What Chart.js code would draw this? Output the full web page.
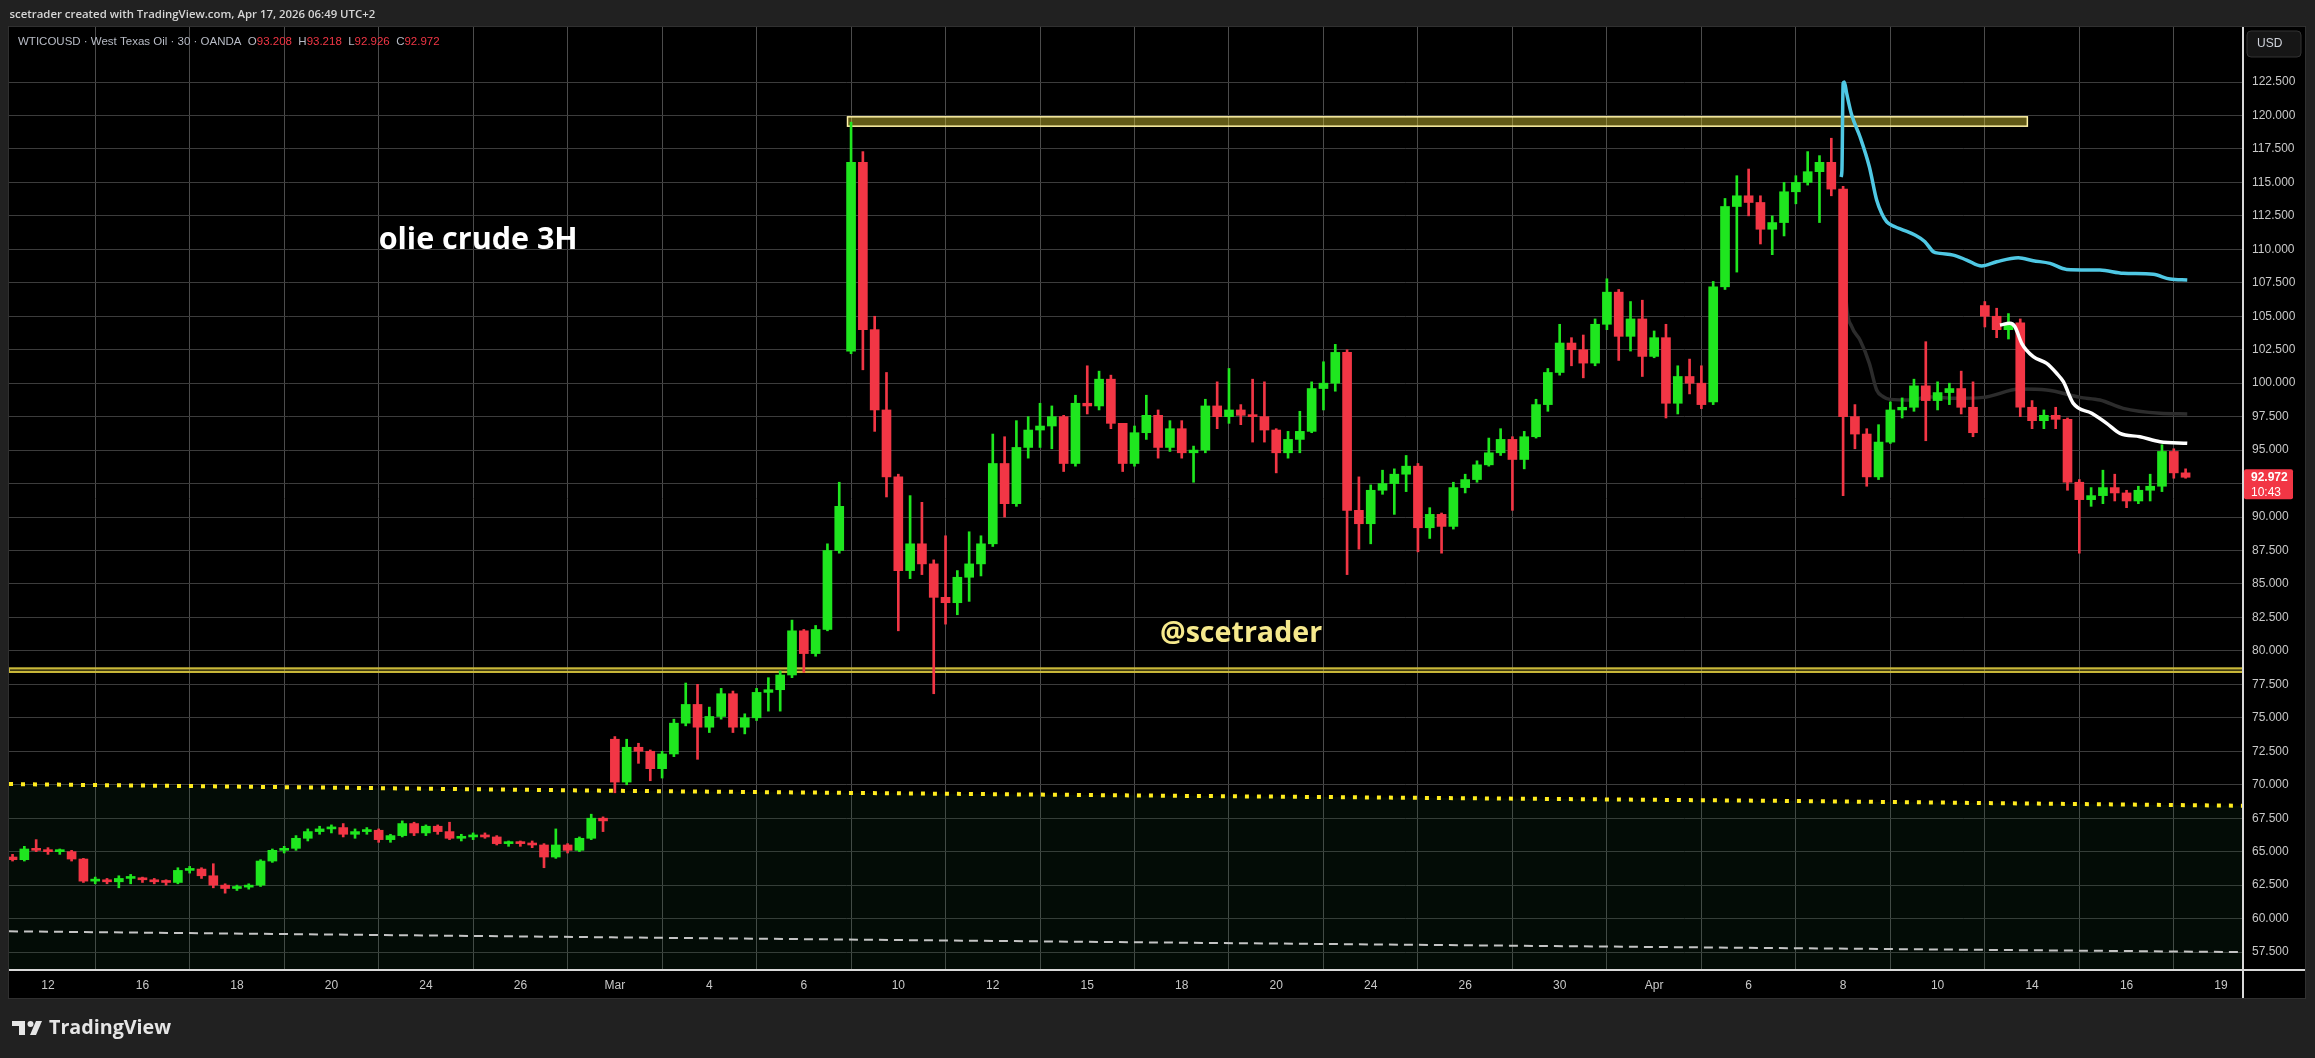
<!DOCTYPE html>
<html>
<head>
<meta charset="utf-8">
<title>WTICOUSD - olie crude 3H</title>
<script src="https://cdn.jsdelivr.net/npm/chart.js@4.4.1/dist/chart.umd.min.js"></script>
<style>
  html, body { margin: 0; padding: 0; background: #212121; }
  #wrap { position: relative; width: 2315px; height: 1058px; }
</style>
</head>
<body>
<div id="wrap"><canvas id="chart" width="2315" height="1058"></canvas></div>
<script>
// one candle = one 6h slot, slot 0 = Feb 12
const firstSlot = -3;

const opens = [64.6, 64.4, 65.2,
    65.1, 65.0, 65.0, 64.45, 62.8, 62.9, 62.75, 63.0, 63.0, 62.9,
    62.75, 62.7, 63.6, 63.7, 63.2, 62.5, 62.25, 62.35, 62.5, 64.3,
    65.1, 65.25, 66.0, 66.5, 66.7, 66.8, 66.3, 66.5, 66.6, 65.9,
    66.2, 67.1, 66.4, 66.9, 66.5, 66.0, 66.1, 66.2, 66.1, 65.6,
    65.7, 65.6, 65.5, 64.6, 65.5, 65.1, 66.0, 67.5, 73.4, 70.2,
    72.8, 72.5, 71.2, 72.3, 74.6, 76.0, 74.3, 75.1, 76.8, 74.3,
    75.0, 76.9, 77.1, 78.2, 81.5, 79.8, 81.6, 87.5, 102.4, 116.5,
    104.0, 98.0, 93.0, 86.0, 88.0, 86.5, 84.0, 83.6, 85.5, 86.5,
    88.0, 94.0, 91.0, 95.2, 96.5, 96.8, 97.5, 94.0, 98.5, 98.3,
    100.3, 97.0, 94.0, 96.3, 97.6, 95.2, 96.6, 94.8, 95.0, 98.3,
    97.5, 98.0, 97.6, 97.5, 96.5, 94.8, 95.8, 96.4, 99.6, 100.0,
    102.3, 90.5, 89.5, 92.0, 92.5, 93.2, 93.8, 89.2, 90.2, 89.3,
    92.2, 92.8, 93.9, 94.8, 95.8, 94.3, 96.0, 98.4, 100.8, 103.0,
    102.5, 101.5, 104.4, 106.8, 103.5, 104.8, 102.0, 103.4, 98.5, 100.5,
    100.0, 98.6, 107.2, 113.2, 114.0, 113.5, 111.5, 112.0, 114.3, 115.0,
    115.8, 116.5, 114.5, 97.5, 96.2, 93.0, 95.6, 98.0, 98.2, 99.8,
    98.7, 99.3, 99.6, 98.2, 105.8, 105.0, 104.0, 104.5, 98.2, 97.2,
    97.6, 97.3, 92.6, 91.3, 91.6, 92.2, 91.8, 91.2, 92.0, 92.3,
    94.9, 93.3];

const highs = [64.8, 65.4, 65.9,
    65.3, 65.2, 65.1, 64.5, 63.1, 63.0, 63.2, 63.3, 63.1, 63.0,
    62.9, 63.8, 63.9, 63.8, 64.1, 62.6, 62.5, 62.6, 64.4, 65.2,
    65.4, 66.2, 66.7, 66.9, 67.0, 67.1, 66.7, 66.8, 66.7, 66.3,
    67.3, 67.2, 67.0, 67.0, 67.2, 66.3, 66.4, 66.4, 66.2, 65.8,
    65.8, 65.8, 65.6, 66.7, 65.6, 66.1, 67.8, 67.6, 73.6, 73.4,
    73.1, 72.6, 72.5, 74.9, 77.6, 77.5, 75.8, 77.2, 77.0, 75.3,
    77.2, 78.0, 78.5, 82.3, 81.6, 81.9, 88.0, 92.6, 119.5, 117.3,
    105.0, 100.8, 93.2, 91.6, 91.1, 86.8, 88.6, 86.0, 88.9, 88.6,
    96.2, 96.0, 97.2, 97.5, 98.5, 98.3, 97.6, 99.1, 101.3, 100.9,
    100.6, 97.0, 96.8, 99.1, 98.0, 97.2, 97.2, 95.3, 98.8, 100.1,
    101.1, 98.4, 100.3, 100.1, 96.6, 96.4, 97.9, 100.1, 101.6, 102.9,
    102.5, 93.0, 92.4, 93.5, 93.6, 94.6, 94.0, 90.7, 90.3, 92.6,
    93.2, 94.2, 95.9, 96.6, 96.0, 96.4, 98.8, 101.1, 104.4, 103.4,
    103.6, 104.8, 107.8, 107.0, 106.1, 106.2, 103.9, 104.4, 101.3, 101.8,
    101.3, 107.6, 113.8, 115.5, 116.0, 114.0, 112.5, 115.0, 115.5, 117.3,
    117.0, 118.3, 114.7, 98.4, 96.6, 96.9, 98.6, 98.9, 100.3, 103.1,
    100.1, 100.0, 100.9, 100.1, 106.1, 105.6, 105.2, 104.8, 98.7, 98.0,
    98.2, 97.4, 92.8, 92.2, 93.5, 93.2, 92.0, 92.3, 93.2, 95.4,
    95.1, 93.6];

const lows = [64.3, 64.3, 65.0,
    64.8, 64.8, 64.3, 62.7, 62.6, 62.6, 62.3, 62.6, 62.7, 62.6,
    62.5, 62.6, 63.4, 63.0, 62.3, 61.9, 62.1, 62.2, 62.4, 64.2,
    64.9, 65.1, 65.8, 66.3, 66.4, 66.1, 66.0, 66.3, 65.7, 65.7,
    66.1, 66.2, 66.2, 66.3, 65.9, 65.8, 65.9, 66.0, 65.5, 65.4,
    65.4, 65.3, 63.8, 64.5, 64.9, 65.0, 65.9, 66.5, 69.4, 70.0,
    71.6, 70.3, 70.5, 72.1, 74.4, 71.9, 73.9, 74.9, 73.9, 73.8,
    74.8, 75.5, 75.5, 78.0, 78.4, 79.6, 81.5, 87.3, 102.2, 101.0,
    96.4, 91.5, 81.5, 85.4, 85.7, 76.8, 82.0, 82.7, 83.7, 85.6,
    87.8, 90.0, 90.8, 94.4, 95.2, 95.1, 93.4, 93.8, 97.7, 98.0,
    96.6, 93.4, 93.8, 95.8, 94.4, 94.9, 94.4, 92.6, 94.8, 96.6,
    97.0, 96.9, 95.6, 95.6, 93.3, 94.4, 94.8, 96.3, 98.0, 99.4,
    85.7, 87.6, 88.0, 91.7, 90.2, 91.9, 87.4, 88.4, 87.3, 89.1,
    91.8, 92.6, 93.8, 94.6, 90.5, 93.6, 95.9, 97.9, 100.6, 101.3,
    100.4, 101.3, 104.0, 101.7, 102.4, 100.5, 101.9, 97.4, 97.7, 99.2,
    98.1, 98.4, 107.0, 108.3, 112.5, 110.4, 109.6, 111.0, 113.4, 114.8,
    112.0, 114.0, 91.6, 95.1, 92.3, 92.8, 95.5, 97.4, 97.9, 95.7,
    98.0, 98.4, 97.7, 96.0, 104.2, 103.4, 103.3, 97.5, 96.6, 96.6,
    96.6, 92.0, 87.3, 90.8, 91.0, 91.2, 90.7, 91.0, 91.2, 91.9,
    92.9, 92.9];

const closes = [64.4, 65.2, 65.1,
    65.0, 65.0, 64.45, 62.8, 62.9, 62.75, 63.0, 63.0, 62.9, 62.75,
    62.7, 63.6, 63.7, 63.2, 62.5, 62.25, 62.35, 62.5, 64.3, 65.1,
    65.25, 66.0, 66.5, 66.7, 66.8, 66.3, 66.5, 66.6, 65.9, 66.2,
    67.1, 66.4, 66.9, 66.5, 66.0, 66.1, 66.2, 66.1, 65.6, 65.7,
    65.6, 65.5, 64.6, 65.5, 65.1, 66.0, 67.5, 67.3, 70.2, 72.8,
    72.5, 71.2, 72.3, 74.6, 76.0, 74.3, 75.1, 76.8, 74.3, 75.0,
    76.9, 77.1, 78.2, 81.5, 79.8, 81.6, 87.5, 90.8, 116.5, 104.0,
    98.0, 93.0, 86.0, 88.0, 86.5, 84.0, 83.6, 85.5, 86.5, 88.0,
    94.0, 91.0, 95.2, 96.5, 96.8, 97.5, 94.0, 98.5, 98.3, 100.3,
    97.0, 94.0, 96.3, 97.6, 95.2, 96.6, 94.8, 95.0, 98.3, 97.5,
    98.0, 97.6, 97.5, 96.5, 94.8, 95.8, 96.4, 99.6, 100.0, 102.3,
    90.5, 89.5, 92.0, 92.5, 93.2, 93.8, 89.2, 90.2, 89.3, 92.2,
    92.8, 93.9, 94.8, 95.8, 94.3, 96.0, 98.4, 100.8, 103.0, 102.5,
    101.5, 104.4, 106.8, 103.5, 104.8, 102.0, 103.4, 98.5, 100.5, 100.0,
    98.4, 107.2, 113.2, 114.0, 113.5, 111.5, 112.0, 114.3, 115.0, 115.8,
    116.5, 114.5, 97.5, 96.2, 93.0, 95.6, 98.0, 98.2, 99.8, 98.7,
    99.3, 99.6, 98.2, 96.3, 105.0, 104.0, 104.5, 98.2, 97.2, 97.6,
    97.3, 92.6, 91.3, 91.6, 92.2, 91.8, 91.2, 92.0, 92.3, 94.9,
    93.3, 92.972];

// time axis
const tickSlots = [0, 8, 16, 24, 32, 40, 48, 56, 64, 72, 80, 88, 96, 104, 112, 120, 128, 136, 144, 152, 160, 168, 176, 184];
const tickLabels = ['12', '16', '18', '20', '24', '26', 'Mar', '4', '6', '10', '12', '15', '18', '20', '24', '26', '30', 'Apr', '6', '8', '10', '14', '16', '19'];
const priceTicks = [57.5, 60, 62.5, 65, 67.5, 70, 72.5, 75, 77.5, 80, 82.5, 85, 87.5, 90, 92.5, 95, 97.5, 100, 102.5, 105, 107.5, 110, 112.5, 115, 117.5, 120, 122.5];

// anchored lines
const cyanX = [151.82, 151.9, 152.0, 152.1, 152.3, 152.73, 153.43, 154.22, 154.84, 155.26, 155.69, 156.39, 157.09, 158.08, 158.93, 159.64, 160.2, 161.33, 162.46, 163.73, 165.0, 166.83, 168.1, 169.52, 170.93, 173.75, 175.72, 178.26, 179.68, 181.14];
const cyanY = [115.4, 115.9, 122.4, 122.5, 121.65, 120.03, 118.41, 116.17, 113.68, 112.69, 112.06, 111.69, 111.44, 111.07, 110.57, 109.82, 109.7, 109.57, 109.2, 108.75, 109.07, 109.37, 109.15, 108.95, 108.5, 108.45, 108.21, 108.13, 107.78, 107.71];
const whiteX = [165.28, 166.13, 166.55, 167.12, 168.1, 169.24, 170.08, 170.65, 171.49, 173.05, 174.32, 175.44, 177.14, 178.83, 181.14];
const whiteY = [104.34, 104.47, 104.22, 102.98, 101.98, 101.48, 100.74, 100.11, 98.49, 97.75, 97.0, 96.25, 96.0, 95.63, 95.51];
const grayX = [151.96, 152.16, 152.3, 152.73, 153.43, 154.22, 154.84, 155.4, 155.97, 157.94, 159.08, 161.33, 163.87, 166.98, 169.24, 172.06, 173.75, 175.72, 178.83, 181.14];
const grayY = [114.18, 107.95, 105.71, 104.22, 103.22, 101.48, 99.49, 98.99, 98.79, 98.74, 98.99, 98.87, 98.94, 99.56, 99.49, 98.94, 98.74, 98.12, 97.75, 97.7];

// long averages
const avgX = [-3.3, 47.7, 96, 146, 185.9];
const dottedY = [70.05, 69.55, 69.17, 68.8, 68.43];
const dashedY = [59.05, 58.6, 58.2, 57.8, 57.5];

// drawn zones: [slotFrom, slotTo, priceLow, priceHigh]
const topZone = [67.7, 167.6, 119.2, 119.9];
const baseZone = [-3.3, 185.9, 78.35, 78.77];

const xMin = -3.3, xMax = 185.86;
const yMin = 56.16, yMax = 126.61;

const upColor = '#1fe61f';
const downColor = '#f23645';

const notes = [
    { text: 'olie crude 3H', slot: 28.0, price: 110.02, width: 199, color: '#ffffff' },
    { text: '@scetrader', slot: 94.16, price: 80.68, width: 162, color: '#f6e98c' }
];

function fitFont(ctx, text, weight, family, width) {
    ctx.font = weight + ' 100px ' + family;
    const size = 100 * width / ctx.measureText(text).width;
    return weight + ' ' + size.toFixed(1) + 'px ' + family;
}

function roundRect(ctx, x, y, w, h, r) {
    ctx.beginPath();
    ctx.moveTo(x + r, y);
    ctx.arcTo(x + w, y, x + w, y + h, r);
    ctx.arcTo(x + w, y + h, x, y + h, r);
    ctx.arcTo(x, y + h, x, y, r);
    ctx.arcTo(x, y, x + w, y, r);
    ctx.closePath();
}

const candleColors = closes.map((c, i) => c >= opens[i] ? upColor : downColor);
const wickData = opens.map((o, i) => ({ x: firstSlot + i, y: [lows[i], highs[i]] }));
const bodyData = opens.map((o, i) => ({ x: firstSlot + i, y: [Math.min(o, closes[i]), Math.max(o, closes[i])] }));
const toPoints = (xs, ys) => xs.map((x, i) => ({ x: x, y: ys[i] }));

const tvPlugin = {
    id: 'tvFrame',
    beforeDraw(chart) {
        const ctx = chart.ctx;
        ctx.save();
        ctx.fillStyle = '#212121';
        ctx.fillRect(0, 0, chart.width, chart.height);
        ctx.fillStyle = '#000000';
        ctx.fillRect(9, 27, 2296, 971);
        ctx.strokeStyle = '#303030';
        ctx.lineWidth = 1;
        ctx.strokeRect(8.5, 26.5, 2297, 972);
        ctx.restore();
    },
    beforeDatasetsDraw(chart) {
        const ctx = chart.ctx, xs = chart.scales.x, ys = chart.scales.y, a = chart.chartArea;
        ctx.save();
        ctx.beginPath();
        ctx.rect(a.left, a.top, a.right - a.left, a.bottom - a.top);
        ctx.clip();

        // resistance box at the top
        let x1 = xs.getPixelForValue(topZone[0]), x2 = xs.getPixelForValue(topZone[1]);
        let y1 = ys.getPixelForValue(topZone[3]), y2 = ys.getPixelForValue(topZone[2]);
        ctx.fillStyle = 'rgba(255, 235, 59, 0.38)';
        ctx.fillRect(x1, y1, x2 - x1, y2 - y1);
        ctx.strokeStyle = '#fff3a6';
        ctx.lineWidth = 1.5;
        ctx.strokeRect(x1, y1, x2 - x1, y2 - y1);

        // support band
        x1 = xs.getPixelForValue(baseZone[0]); x2 = xs.getPixelForValue(baseZone[1]);
        y1 = ys.getPixelForValue(baseZone[3]); y2 = ys.getPixelForValue(baseZone[2]);
        ctx.fillStyle = 'rgba(201, 184, 58, 0.3)';
        ctx.fillRect(x1, y1, x2 - x1, y2 - y1);
        ctx.strokeStyle = '#c9b83a';
        ctx.lineWidth = 2;
        ctx.strokeRect(x1, y1 + 1, x2 - x1, y2 - y1 - 2);
        ctx.restore();
    },
    afterDatasetsDraw(chart) {
        const ctx = chart.ctx, xs = chart.scales.x, ys = chart.scales.y;
        ctx.save();
        ctx.textBaseline = 'alphabetic';
        ctx.textAlign = 'left';
        notes.forEach(n => {
            ctx.font = fitFont(ctx, n.text, 'bold', '"Open Sans"', n.width);
            ctx.fillStyle = n.color;
            ctx.fillText(n.text, xs.getPixelForValue(n.slot), ys.getPixelForValue(n.price));
        });
        ctx.restore();
    },
    afterDraw(chart) {
        const ctx = chart.ctx, ys = chart.scales.y;
        ctx.save();

        // scale borders
        ctx.strokeStyle = '#d9d9d9';
        ctx.lineWidth = 2;
        ctx.beginPath();
        ctx.moveTo(2243, 27); ctx.lineTo(2243, 998);
        ctx.moveTo(9, 970); ctx.lineTo(2305, 970);
        ctx.stroke();

        // header
        const header = 'scetrader created with TradingView.com, Apr 17, 2026 06:49 UTC+2';
        ctx.font = fitFont(ctx, header, '600', '"Open Sans"', 365);
        ctx.fillStyle = '#d6d6d6';
        ctx.textBaseline = 'middle';
        ctx.textAlign = 'left';
        ctx.fillText(header, 9.5, 15);

        // legend
        const parts = [
            ['WTICOUSD \u00b7 West Texas Oil \u00b7 30 \u00b7 OANDA  ', '#b8bcc6'],
            ['O', '#b8bcc6'], ['93.208  ', downColor],
            ['H', '#b8bcc6'], ['93.218  ', downColor],
            ['L', '#b8bcc6'], ['92.926  ', downColor],
            ['C', '#b8bcc6'], ['92.972', downColor]
        ];
        const full = parts.map(p => p[0]).join('');
        ctx.font = fitFont(ctx, full, 'normal', '"Liberation Sans"', 420);
        let lx = 18;
        parts.forEach(p => {
            ctx.fillStyle = p[1];
            ctx.fillText(p[0], lx, 42);
            lx += ctx.measureText(p[0]).width;
        });

        // currency button
        roundRect(ctx, 2247, 31, 54, 26, 4);
        ctx.fillStyle = '#161616';
        ctx.fill();
        ctx.strokeStyle = '#333333';
        ctx.lineWidth = 1;
        ctx.stroke();
        ctx.fillStyle = '#d1d4dc';
        ctx.font = '12px "Liberation Sans"';
        ctx.fillText('USD', 2257, 44);

        // last price tag
        const last = closes[closes.length - 1];
        const yLast = ys.getPixelForValue(last);
        roundRect(ctx, 2244, yLast - 8, 49, 30, 2);
        ctx.fillStyle = downColor;
        ctx.fill();
        ctx.fillStyle = '#ffffff';
        ctx.font = 'bold 12px "Liberation Sans"';
        ctx.fillText(last.toFixed(3), 2251, yLast);
        ctx.font = '12px "Liberation Sans"';
        ctx.fillText('10:43', 2251, yLast + 15);

        // logo
        ctx.fillStyle = '#e6e6e6';
        ctx.fillRect(12, 1021, 13, 5);
        ctx.fillRect(19, 1021, 6, 14);
        ctx.beginPath();
        ctx.arc(30.5, 1024, 3, 0, Math.PI * 2);
        ctx.fill();
        ctx.beginPath();
        ctx.moveTo(36, 1021); ctx.lineTo(42, 1021); ctx.lineTo(36, 1035); ctx.lineTo(30, 1035);
        ctx.closePath();
        ctx.fill();
        ctx.font = fitFont(ctx, 'TradingView', 'bold', '"Open Sans"', 122);
        ctx.fillText('TradingView', 49, 1028);
        ctx.restore();
    }
};

const ctx = document.getElementById('chart').getContext('2d');
new Chart(ctx, {
    type: 'bar',
    data: {
        datasets: [{
            type: 'line',
            data: toPoints(cyanX, cyanY),
            borderColor: '#4fc8e4',
            borderWidth: 3.5,
            pointRadius: 0,
            cubicInterpolationMode: 'monotone',
            order: 0
        }, {
            type: 'line',
            data: toPoints(whiteX, whiteY),
            borderColor: '#ffffff',
            borderWidth: 3.5,
            pointRadius: 0,
            cubicInterpolationMode: 'monotone',
            order: 1
        }, {
            data: bodyData,
            backgroundColor: candleColors,
            barThickness: 9,
            minBarLength: 2,
            grouped: false,
            order: 2
        }, {
            data: wickData,
            backgroundColor: candleColors,
            barThickness: 2,
            minBarLength: 1,
            grouped: false,
            order: 3
        }, {
            type: 'line',
            data: toPoints(grayX, grayY),
            borderColor: '#2c2c2c',
            borderWidth: 3.5,
            pointRadius: 0,
            cubicInterpolationMode: 'monotone',
            order: 4
        }, {
            type: 'line',
            data: toPoints(avgX, dashedY),
            borderColor: '#c4c4c4',
            borderWidth: 2,
            borderDash: [9, 6],
            pointRadius: 0,
            order: 5
        }, {
            type: 'line',
            data: toPoints(avgX, dottedY),
            borderColor: '#ffeb1e',
            borderWidth: 4,
            borderDash: [4, 8],
            borderCapStyle: 'butt',
            pointRadius: 0,
            fill: 'start',
            backgroundColor: 'rgba(20, 72, 36, 0.16)',
            order: 6
        }]
    },
    options: {
        responsive: false,
        devicePixelRatio: 1,
        animation: false,
        layout: { padding: { left: 9, top: 27, right: 10, bottom: 60 } },
        plugins: { legend: { display: false }, tooltip: { enabled: false } },
        scales: {
            x: {
                type: 'linear',
                min: xMin,
                max: xMax,
                offset: false,
                afterBuildTicks: s => { s.ticks = tickSlots.map(v => ({ value: v })); },
                afterFit: s => { s.height = 28; },
                grid: { color: '#4c4c4c', drawTicks: false },
                border: { display: false },
                ticks: {
                    autoSkip: false,
                    maxRotation: 0,
                    padding: 8,
                    color: '#c8c8c8',
                    font: { family: '"Liberation Sans"', size: 12 },
                    callback: (v, i) => tickLabels[i]
                }
            },
            y: {
                type: 'linear',
                position: 'right',
                min: yMin,
                max: yMax,
                afterBuildTicks: s => { s.ticks = priceTicks.map(v => ({ value: v })); },
                afterFit: s => { s.width = 62; },
                grid: { color: '#3c3c3c', drawTicks: false },
                border: { display: false },
                ticks: {
                    autoSkip: false,
                    padding: 9,
                    color: '#c8c8c8',
                    font: { family: '"Liberation Sans"', size: 12 },
                    callback: v => v.toFixed(3)
                }
            }
        }
    },
    plugins: [tvPlugin]
});
</script>
</body>
</html>
